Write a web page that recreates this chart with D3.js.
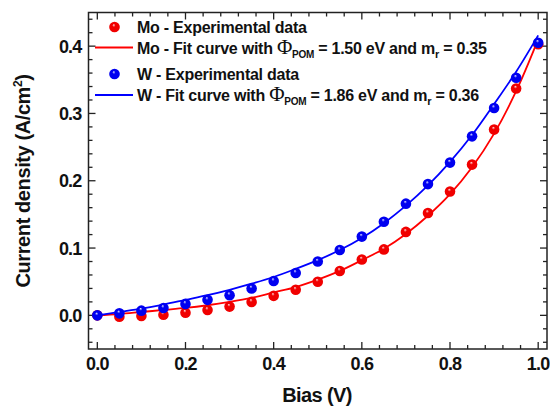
<!DOCTYPE html>
<html><head><meta charset="utf-8">
<script src="https://cdn.jsdelivr.net/npm/d3@7"></script>
<style>
html,body{margin:0;padding:0;background:#fff;}
svg{display:block;font-family:"Liberation Sans",Arial,Helvetica,sans-serif;}
</style></head><body>
<svg id="chart" width="550" height="407"></svg>
<script>
const biasV = [0,0.05,0.1,0.15,0.2,0.25,0.3,0.35,0.4,0.45,0.5,0.55,0.6,0.65,0.7,0.75,0.8,0.85,0.9,0.95,1.0];
const moExp = [0.000,-0.002,-0.001,0.001,0.004,0.008,0.013,0.020,0.029,0.038,0.050,0.066,0.083,0.098,0.124,0.152,0.184,0.224,0.276,0.337,0.403];
const wExp  = [0.000,0.003,0.007,0.011,0.017,0.023,0.030,0.040,0.051,0.063,0.080,0.097,0.117,0.139,0.166,0.195,0.227,0.266,0.308,0.353,0.405];
const moFit = [0.000,0.002,0.005,0.008,0.011,0.015,0.020,0.026,0.034,0.042,0.053,0.066,0.082,0.099,0.121,0.148,0.180,0.220,0.270,0.333,0.410];
const wFit  = [0.000,0.005,0.010,0.016,0.023,0.030,0.038,0.047,0.057,0.069,0.082,0.097,0.115,0.137,0.163,0.193,0.228,0.268,0.314,0.362,0.416];
const xTicks = [0.0,0.2,0.4,0.6,0.8,1.0];
const yTicks = [0.0,0.1,0.2,0.3,0.4];
const xMinor = d3.range(0,1.0001,0.04);
const yMinor = d3.range(-0.04,0.4401,0.02);

const svg = d3.select("#chart");
const L=88.5, R=547, T=12.5, B=349;
const x = d3.scaleLinear().domain([-0.02,1.02]).range([L,R]);
const y = d3.scaleLinear().domain([-0.05,0.45]).range([B,T]);

const defs = svg.append("defs");
function grad(id, base, hi){
  const g = defs.append("radialGradient").attr("id",id).attr("cx","50%").attr("cy","50%").attr("r","55%").attr("fx","42%").attr("fy","30%");
  g.append("stop").attr("offset","0%").attr("stop-color",hi);
  g.append("stop").attr("offset","28%").attr("stop-color",base);
  g.append("stop").attr("offset","100%").attr("stop-color",base);
}
grad("gRed","#f00000","#ffe0e0");
grad("gBlue","#0000f0","#e0e0ff");

// frame
svg.append("rect").attr("x",L).attr("y",T).attr("width",R-L).attr("height",B-T)
  .attr("fill","none").attr("stroke","#222").attr("stroke-width",1.5);

// ticks (inward on all sides)
const tk = svg.append("g").attr("stroke","#222").attr("stroke-width",1.3);
xMinor.forEach(v=>{
  const major = xTicks.some(t=>Math.abs(t-v)<1e-6);
  const len = major?7:4;
  tk.append("line").attr("x1",x(v)).attr("x2",x(v)).attr("y1",B).attr("y2",B-len);
  tk.append("line").attr("x1",x(v)).attr("x2",x(v)).attr("y1",T).attr("y2",T+len);
});
yMinor.forEach(v=>{
  const major = yTicks.some(t=>Math.abs(t-v)<1e-6);
  const len = major?7:4;
  tk.append("line").attr("y1",y(v)).attr("y2",y(v)).attr("x1",L).attr("x2",L+len);
  tk.append("line").attr("y1",y(v)).attr("y2",y(v)).attr("x1",R).attr("x2",R-len);
});

// tick labels
svg.append("g").selectAll("text").data(xTicks).join("text")
  .attr("x",d=>x(d)).attr("y",369.5).attr("text-anchor","middle")
  .attr("font-size",18).attr("font-weight","bold").attr("letter-spacing",-0.8).attr("fill","#111")
  .text(d=>d.toFixed(1));
svg.append("g").selectAll("text").data(yTicks).join("text")
  .attr("x",81.5).attr("y",d=>y(d)+6.5).attr("text-anchor","end")
  .attr("font-size",18).attr("font-weight","bold").attr("letter-spacing",-0.8).attr("fill","#111")
  .text(d=>d.toFixed(1));

// axis titles
svg.append("text").attr("x",317).attr("y",401.5).attr("text-anchor","middle")
  .attr("font-size",20).attr("font-weight","bold").attr("letter-spacing",-0.6).attr("fill","#111").text("Bias (V)");
const yt = svg.append("text").attr("transform","translate(30,181) rotate(-90)").attr("text-anchor","middle")
  .attr("font-size",20).attr("font-weight","bold").attr("letter-spacing",-0.4).attr("fill","#111");
yt.append("tspan").text("Current density (A/cm");
yt.append("tspan").attr("font-size",12).attr("dy",-8).text("2");
yt.append("tspan").attr("dy",8).text(")");

// series
const line = d3.line().x((d,i)=>x(biasV[i])).y(d=>y(d)).curve(d3.curveCatmullRom);
function series(fit, exp, color, gid){
  svg.append("path").attr("d",line(fit)).attr("fill","none").attr("stroke",color).attr("stroke-width",1.8);
  svg.append("g").selectAll("circle").data(exp).join("circle")
    .attr("cx",(d,i)=>x(biasV[i])).attr("cy",d=>y(d)).attr("r",5.3).attr("fill",`url(#${gid})`);
}
series(moFit, moExp, "#ff0000", "gRed");
series(wFit, wExp, "#0000ff", "gBlue");

// legend
const lg = svg.append("g").attr("font-size",16).attr("font-weight","bold").attr("letter-spacing",-0.25).attr("fill","#111");
function legText(yy, parts){
  const t = lg.append("text").attr("x",137).attr("y",yy);
  parts.forEach(p=>{
    const s = t.append("tspan").text(p.t);
    if(p.dy) s.attr("dy",p.dy);
    if(p.fs) s.attr("font-size",p.fs);
    if(p.fw) s.attr("font-weight",p.fw);
    if(p.ff) s.attr("font-family",p.ff);
  });
}
lg.append("circle").attr("cx",114.5).attr("cy",27).attr("r",5.3).attr("fill","url(#gRed)");
legText(33,[{t:"Mo - Experimental data"}]);
lg.append("line").attr("x1",95).attr("x2",133).attr("y1",47.5).attr("y2",47.5).attr("stroke","#ff0000").attr("stroke-width",1.8);
legText(53.5,[{t:"Mo - Fit curve with "},{t:"\u03A6",fw:"normal",ff:"Liberation Serif",fs:21},{t:"POM",fs:10,dy:4},{t:" = 1.50 eV and m",dy:-4},{t:"r",fs:11,dy:4},{t:" = 0.35",dy:-4}]);
lg.append("circle").attr("cx",114.5).attr("cy",74).attr("r",5.3).attr("fill","url(#gBlue)");
legText(80,[{t:"W - Experimental data"}]);
lg.append("line").attr("x1",95).attr("x2",133).attr("y1",95).attr("y2",95).attr("stroke","#0000ff").attr("stroke-width",1.8);
legText(101,[{t:"W - Fit curve with "},{t:"\u03A6",fw:"normal",ff:"Liberation Serif",fs:21},{t:"POM",fs:10,dy:4},{t:" = 1.86 eV and m",dy:-4},{t:"r",fs:11,dy:4},{t:" = 0.36",dy:-4}]);
</script>
</body></html>
